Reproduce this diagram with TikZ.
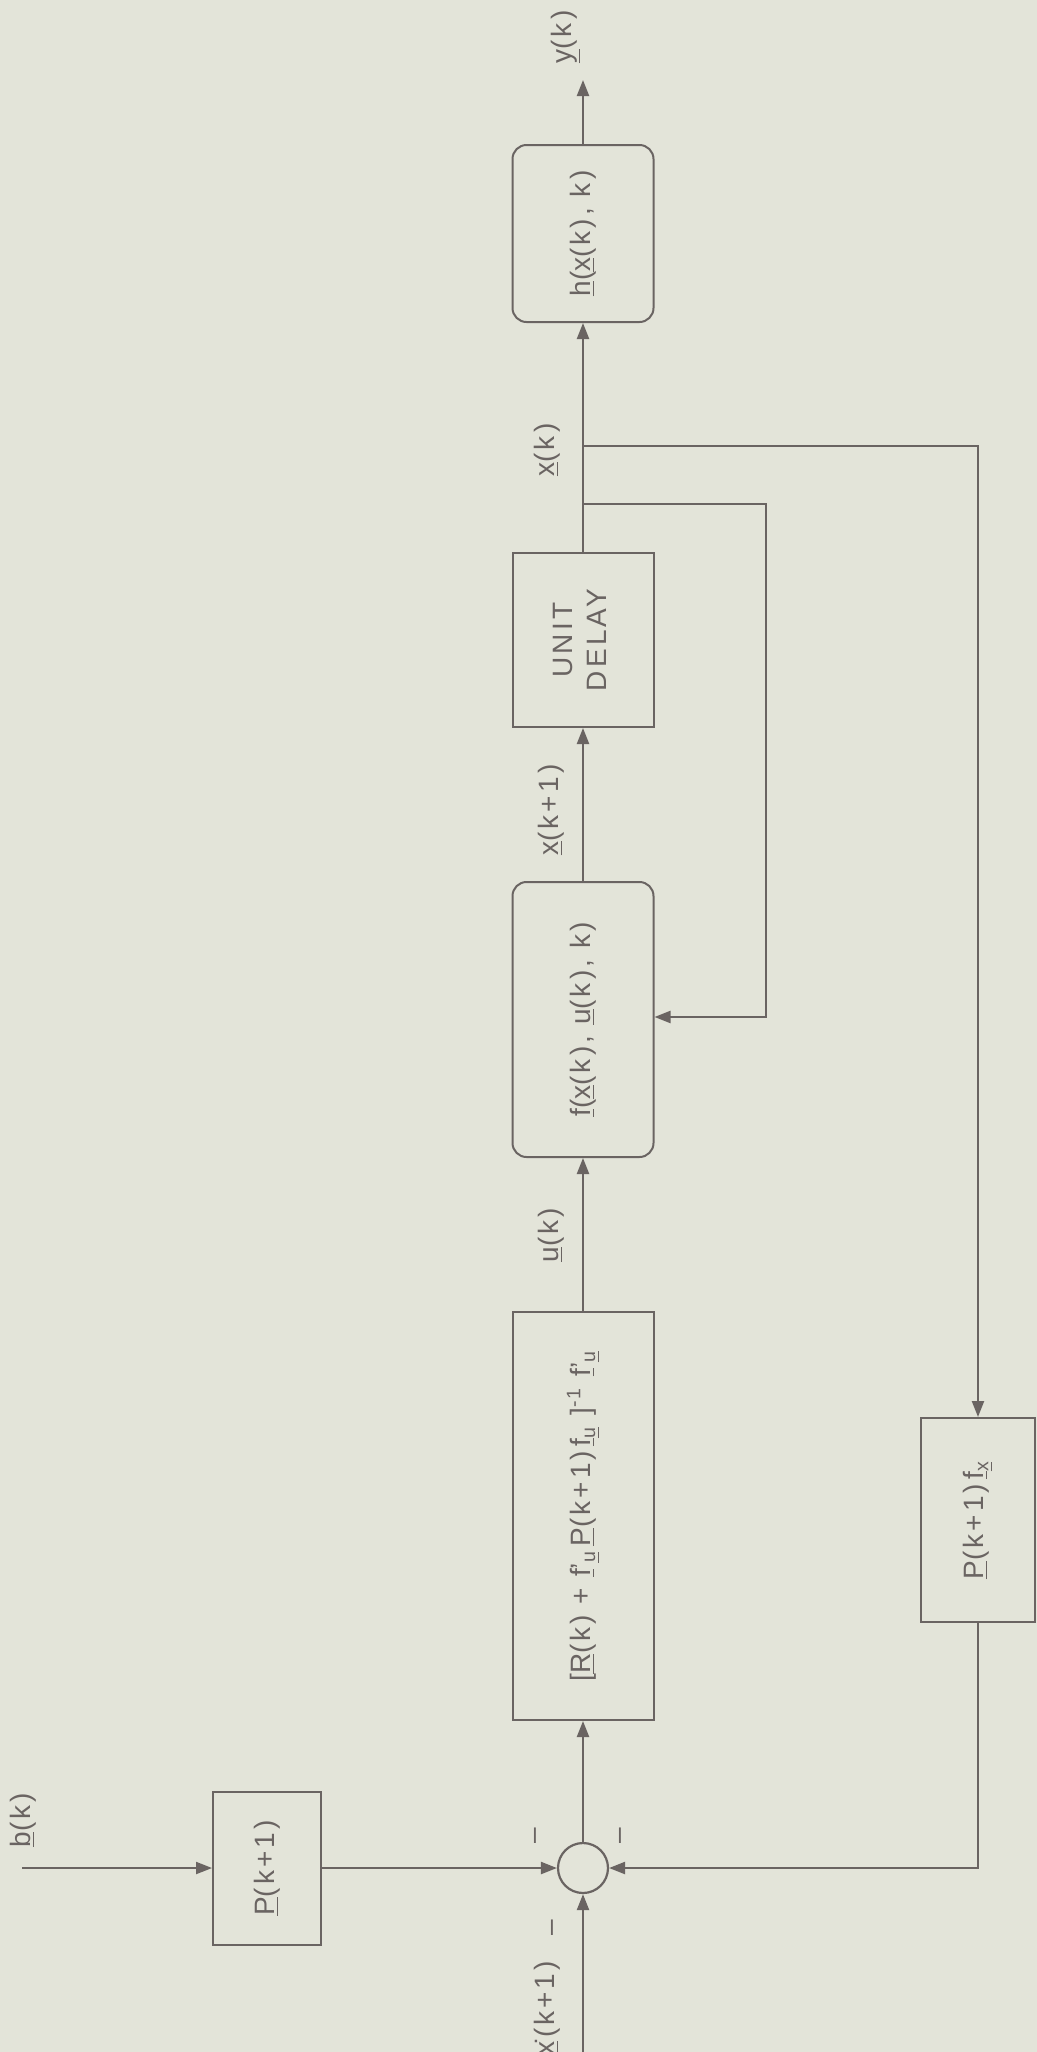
\documentclass[tikz,border=0pt]{standalone}
\usepackage{fontspec}
\setmainfont{Liberation Sans}[LetterSpace=11]
\usepackage{graphicx}
\usetikzlibrary{arrows.meta}
\definecolor{bg}{HTML}{E3E4D9}
\definecolor{ink}{HTML}{6A6462}
\newcommand{\ul}[1]{\underline{#1}}
\newcommand{\rt}[1]{\rotatebox{90}{#1}}
\begin{document}
\begin{tikzpicture}[x=0.5pt,y=-0.5pt,
  blk/.style={draw=ink, line width=1pt, rectangle, minimum width=70.5pt, inner sep=0pt, text=ink, font=\fontsize{14}{17}\selectfont},
  rblk/.style={blk, rounded corners=7pt},
  conn/.style={draw=ink, line width=1.1pt, -{Triangle[length=8pt,width=6pt]}},
  lbl/.style={text=ink, font=\fontsize{14}{17}\selectfont, rotate=90, inner sep=0pt},
  sumc/.style={draw=ink, line width=1.1pt, circle, minimum size=25pt, inner sep=0pt}]
\useasboundingbox (0,0) rectangle (1037,2052);
\fill[bg] (0,0) rectangle (1037,2052);

% main chain
\node[rblk, minimum height=88.5pt] (h) at (583,233.5) {\rt{\ul{h}(\ul{x}(k), k)}};
\node[blk, minimum height=87pt] (delay) at (583,640) {\rt{\begin{tabular}{@{}c@{}}UNIT\\DELAY\end{tabular}}};
\node[rblk, minimum height=137.5pt] (f) at (583,1019.5) {\rt{\ul{f}(\ul{x}(k), \ul{u}(k), k)}};
\node[blk, minimum height=204pt] (big) at (583,1516) {\rt{[\ul{R}(k) + \ul{f}'\textsubscript{\ul{u}}\,\ul{P}(k+1)\,\ul{f}\textsubscript{\ul{u}} ]\textsuperscript{-1} \ul{f}'\textsubscript{\ul{u}}}};
\node[sumc] (sum) at (583,1868) {};
\node[blk, minimum width=54pt, minimum height=76.5pt] (pb) at (267,1868) {\rt{\ul{P}(k+1)}};
\node[blk, minimum width=57pt, minimum height=102pt] (pfx) at (978,1520) {\rt{\ul{P}(k+1)\,\ul{f}\textsubscript{\ul{x}}}};

% free ends and branch points
\coordinate (yout) at (583,80);
\coordinate (bin) at (22,1868);
\coordinate (xin) at (583,2052);
\coordinate (br1) at (583,446);
\coordinate (br2) at (583,504);
\coordinate (fb) at (766,1017);

% connectors
\draw[conn] (sum) -- (big);
\draw[conn] (big) -- (f);
\draw[conn] (f) -- (delay);
\draw[conn] (delay) -- (h);
\draw[conn] (h) -- (yout);
\draw[conn] (br1) -| (pfx.north);
\draw[conn] (br2) -| (fb) -- (fb -| f.east);
\draw[conn] (pfx.south) |- (sum.east);
\draw[conn] (bin) -- (pb);
\draw[conn] (pb) -- (sum);
\draw[conn] (xin) -- (sum);

% labels
\node[lbl] (ly) at (566,37) {\ul{y}(k)};
\node[lbl] (lx) at (547,450) {\ul{x}(k)};
\node[lbl] (lx1) at (551,810) {\ul{x}(k+1)};
\node[lbl] (lu) at (551,1235) {\ul{u}(k)};
\node[lbl] (lb) at (23,1820) {\ul{b}(k)};
\node[lbl] (lxb) at (547,2008) {\.{\ul{x}}(k+1)};
\node[lbl] (m1) at (538,1836) {\textendash};
\node[lbl] (m2) at (623,1836) {\textendash};
\node[lbl] (m3) at (555,1928) {\textendash};
\end{tikzpicture}
\end{document}
